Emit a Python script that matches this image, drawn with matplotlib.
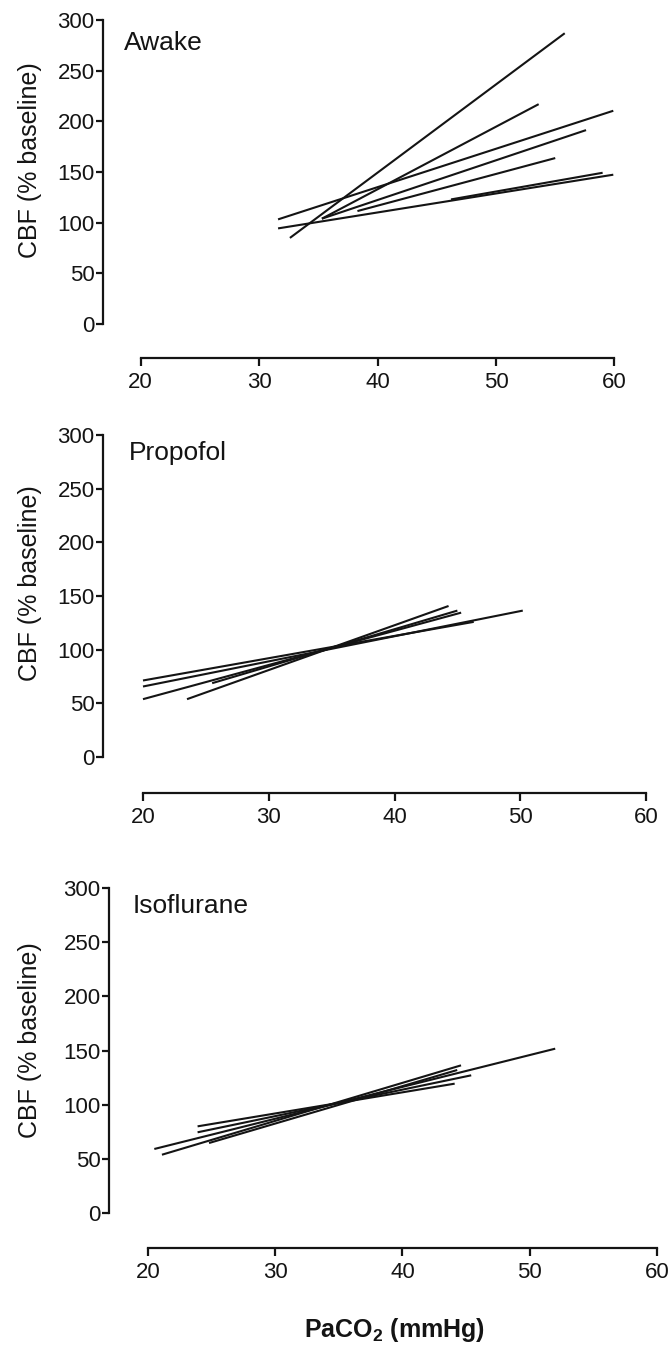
import matplotlib
matplotlib.use("Agg")
import matplotlib.pyplot as plt

plt.rcParams['font.family'] = ['Liberation Sans', 'DejaVu Sans']
plt.rcParams['mathtext.fontset'] = 'custom'
plt.rcParams['mathtext.rm'] = 'Liberation Sans'
plt.rcParams['mathtext.bf'] = 'Liberation Sans:bold'

# ---- data (start/end of each regression line) ----
awake_x0 = [32.6, 35.3, 31.6, 35.3, 38.3, 31.6, 46.2]
awake_x1 = [55.8, 53.6, 59.9, 57.6, 55.0, 59.9, 59.0]
awake_y0 = [85.0, 104.0, 103.3, 104.0, 111.5, 94.4, 123.0]
awake_y1 = [287.0, 217.0, 210.5, 191.4, 163.8, 147.4, 149.3]

propofol_x0 = [20.0, 20.0, 20.0, 23.5, 25.5]
propofol_x1 = [46.3, 50.2, 45.3, 44.3, 45.0]
propofol_y0 = [71.3, 65.7, 53.9, 53.9, 68.8]
propofol_y1 = [125.9, 136.4, 134.5, 140.7, 136.4]

iso_x0 = [20.5, 21.1, 23.9, 23.9, 24.8]
iso_x1 = [52.0, 44.6, 44.1, 45.4, 44.3]
iso_y0 = [59.1, 53.8, 80.0, 74.5, 64.6]
iso_y1 = [151.7, 136.3, 119.4, 127.1, 132.0]

panel_names = ["Awake", "Propofol", "Isoflurane"]
x_ticks = [20, 30, 40, 50, 60]
y_ticks = [0, 50, 100, 150, 200, 250, 300]
y_label = "CBF (% baseline)"
x_label = r"PaCO$_{\mathbf{2}}$ (mmHg)"

# ---- layout (pixel boxes: left, right, top, bottom) ----
W, H = 672, 1347
boxes = [(103, 620.4, 15.0, 358.0),
         (103, 652.3, 429.6, 793.0),
         (109, 663.4, 882.6, 1248.0)]
xlims = [(16.82, 60.5), (16.82, 60.5), (16.94, 60.5)]
ylims = [(-33.5, 305), (-33.5, 305), (-32.3, 305)]
name_pos = [(18.56, 270.4), (18.9, 276.7), (18.8, 276.9)]
ylabel_px = [(30, 160), (30, 583), (30, 1040)]

data = [(awake_x0, awake_x1, awake_y0, awake_y1),
        (propofol_x0, propofol_x1, propofol_y0, propofol_y1),
        (iso_x0, iso_x1, iso_y0, iso_y1)]

fig = plt.figure(figsize=(W / 100, H / 100), dpi=100)
ink = '#141414'

for i in range(3):
    l, r, t, b = boxes[i]
    ax = fig.add_axes([l / W, 1 - b / H, (r - l) / W, (b - t) / H])
    x0, x1, y0, y1 = data[i]
    for a, bb, c, d in zip(x0, x1, y0, y1):
        ax.plot([a, bb], [c, d], color=ink, lw=1.5, solid_capstyle='butt')
    ax.set_xlim(*xlims[i])
    ax.set_ylim(*ylims[i])
    ax.spines['top'].set_visible(False)
    ax.spines['right'].set_visible(False)
    for s in ('left', 'bottom'):
        ax.spines[s].set_linewidth(1.6)
        ax.spines[s].set_color(ink)
    ax.spines['left'].set_bounds(0, 300)
    ax.spines['bottom'].set_bounds(20, 60)
    ax.set_xticks(x_ticks)
    ax.set_yticks(y_ticks)
    ax.tick_params(axis='x', direction='out', length=6, width=1.6, pad=4,
                   labelsize=16, colors=ink)
    ax.tick_params(axis='y', direction='out', length=5, width=1.6, pad=1,
                   labelsize=16, colors=ink)
    ax.patch.set_visible(False)
    ax.text(name_pos[i][0], name_pos[i][1], panel_names[i], fontsize=19,
            ha='left', va='baseline', color=ink)
    fig.text(ylabel_px[i][0] / W, 1 - ylabel_px[i][1] / H, y_label,
             rotation=90, ha='center', va='center', fontsize=18, color=ink)

fig.text(394 / W, 1 - 1330 / H, x_label, ha='center', va='center',
         fontsize=18, fontweight='bold', color=ink)

fig.savefig("out.png", dpi=100)
